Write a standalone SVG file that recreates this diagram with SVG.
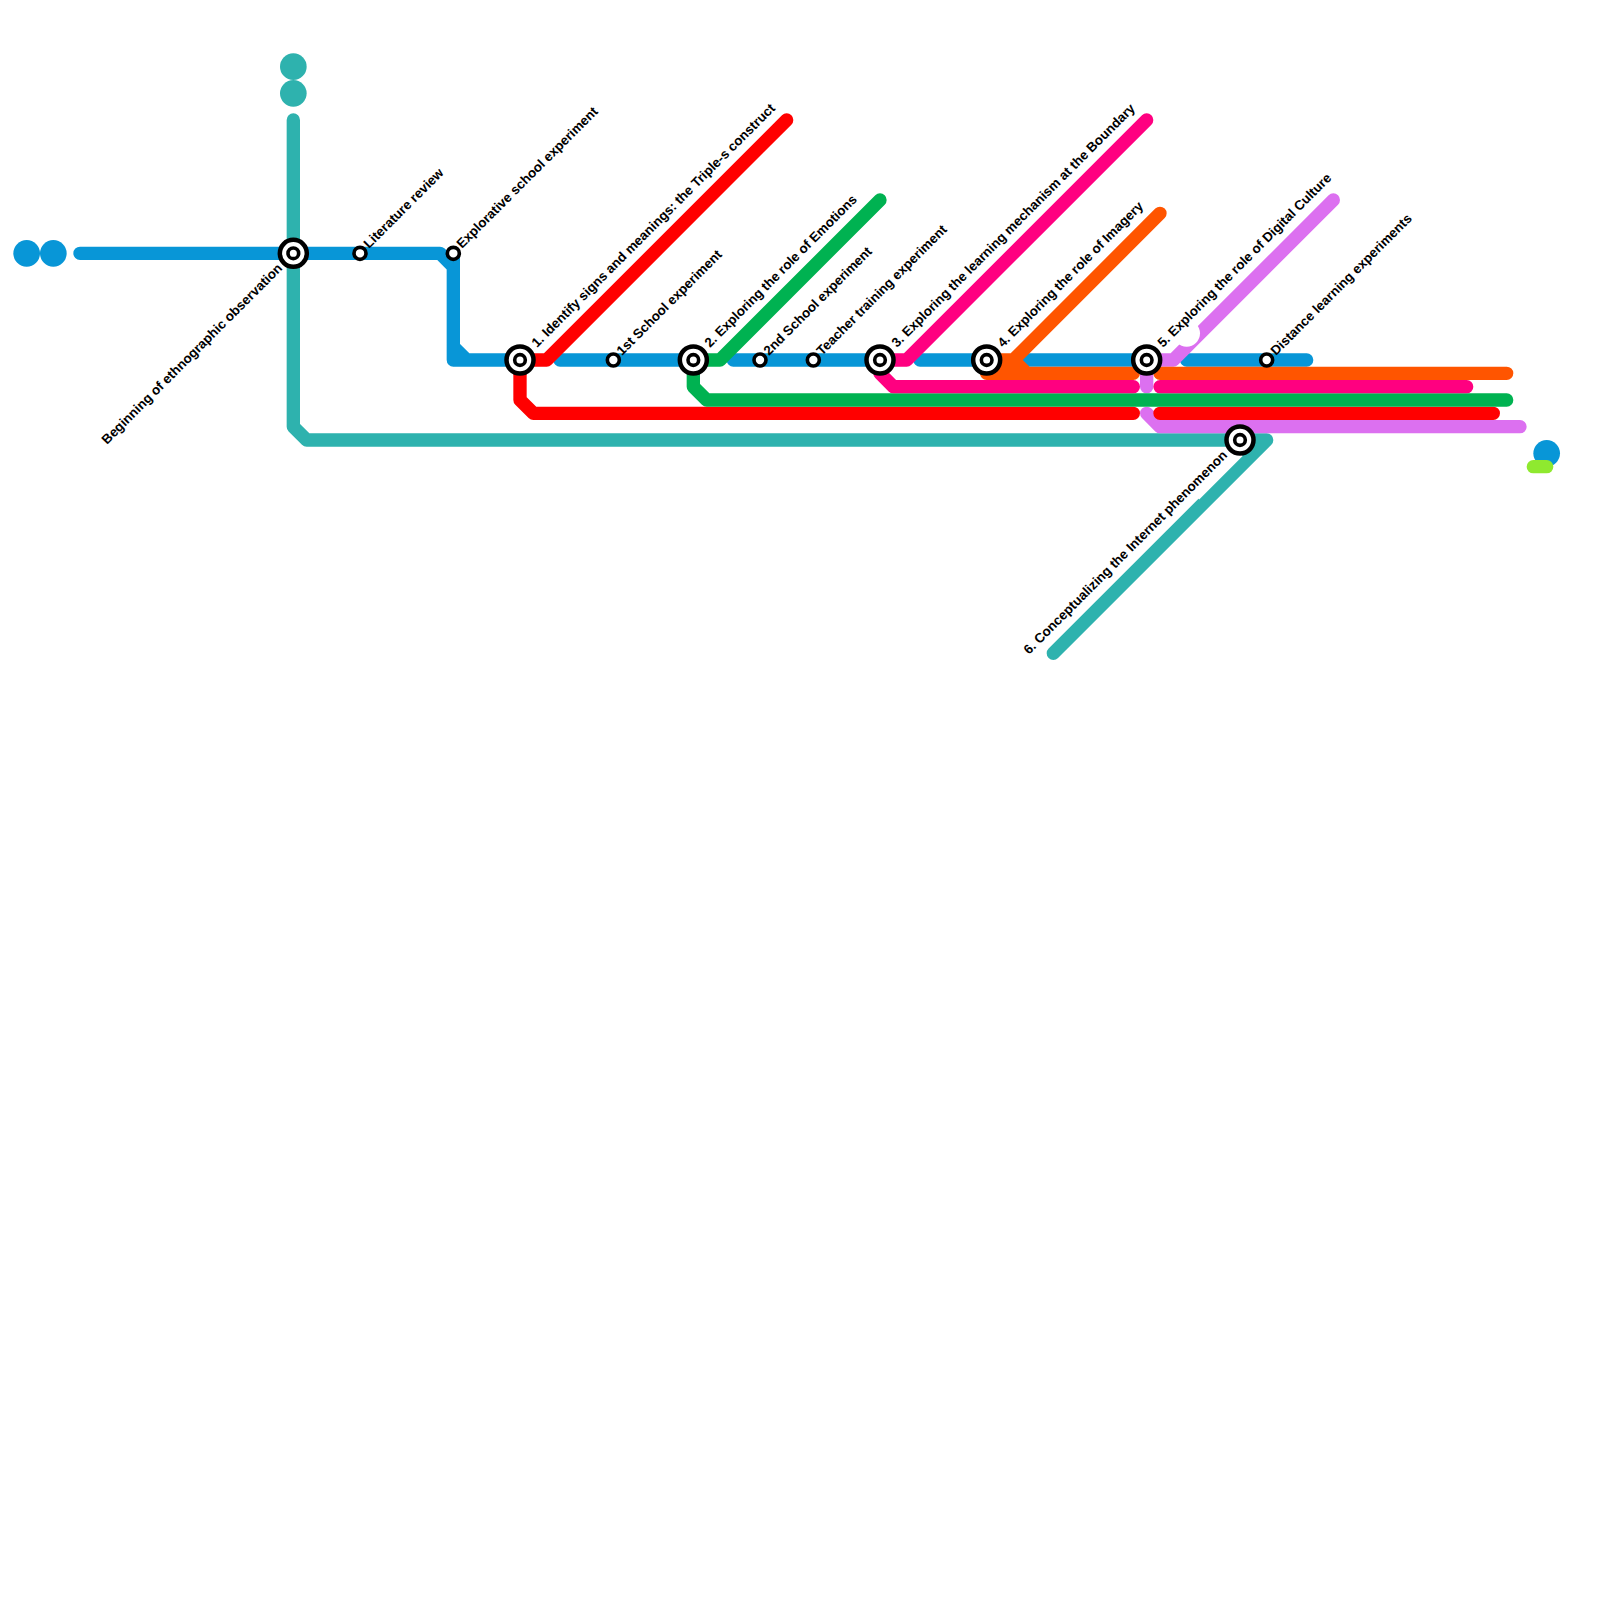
<svg xmlns="http://www.w3.org/2000/svg" width="1600" height="1600" viewBox="0 0 1600 1600">
<style>
.l{fill:none;stroke-width:13.33;stroke-linecap:round;stroke-linejoin:round}
.blue{stroke:#0896d7}.teal{stroke:#2eb2ae}.red{stroke:#ff0000}.green{stroke:#00b251}.pink{stroke:#ff0080}.orange{stroke:#ff5500}.purple{stroke:#dc70f0}.lime{stroke:#8fe92f}
.o{stroke:#000;stroke-width:4.5;fill:#fff}
.i{stroke:#000;stroke-width:3.6;fill:#fff}
.s{stroke:#000;stroke-width:3.6;fill:#fff}
text{font-family:"Liberation Sans",Arial,sans-serif;font-weight:700;font-size:13.33px;fill:#000}
</style>
<rect width="1600" height="1600" fill="#fff"/>
<g id="terminals">
<circle cx="26.67" cy="253.33" r="13.33" fill="#0896d7"/>
<circle cx="53.33" cy="253.33" r="13.33" fill="#0896d7"/>
<circle cx="293.33" cy="66.67" r="13.33" fill="#2eb2ae"/>
<circle cx="293.33" cy="93.33" r="13.33" fill="#2eb2ae"/>
<circle cx="1546.67" cy="453.33" r="13.33" fill="#0896d7"/>
</g>
<g id="connectors">
<path class="l teal" d="M293.33 120V426.67L306.67 440H1266.67L1053.33 653.33"/>
<path d="M1198.5 498.74L1242 455.24" fill="none" stroke="#fff" stroke-width="2"/>
<path class="l blue" d="M80 253.33H440L453.33 266.67M453.33 253.33V360M453.33 346.67L466.67 360M453.33 360H520"/>
<path class="l blue" d="M560 360H693.33M733.33 360H880M920 360H986.67M1026.67 360H1146.67M1186.67 360H1306.67"/>
<path class="l purple" d="M1146.67 360H1173.33L1333.33 200M1146.67 360V386.67M1146.67 413.33L1160 426.67H1520"/>
<path class="l red" d="M786.67 120L546.67 360H520V400L533.33 413.33H1133.33M1160 413.33H1493.33"/>
<path class="l green" d="M880 200L720 360H693.33V386.67L706.67 400H1506.67"/>
<path class="l pink" d="M1146.67 120L906.67 360H880V373.33L893.33 386.67H1133.33M1160 386.67H1466.67"/>
<path class="l orange" d="M1160 213.33L1013.33 360H986.67V373.33H1133.33M1160 373.33H1506.67M1013.33 360L1026.67 373.33"/>
<path class="l lime" d="M1533.33 466.67H1546.67"/>
<circle cx="1186.67" cy="333.33" r="13.33" fill="#fff"/>
</g>
<g id="s1"><circle class="o" cx="293.33" cy="253.33" r="13.5"/><circle class="i" cx="293.33" cy="253.33" r="5.33"/><text transform="translate(283 269) rotate(-45)" text-anchor="end">Beginning of ethnographic observation</text></g>
<g id="s2"><circle class="s" cx="360" cy="253.33" r="6"/><text transform="translate(369 249) rotate(-45)">Literature review</text></g>
<g id="s3"><circle class="s" cx="453.33" cy="253.33" r="6"/><text transform="translate(462 249) rotate(-45)">Explorative school experiment</text></g>
<g id="s4"><circle class="o" cx="520" cy="360" r="13.5"/><circle class="i" cx="520" cy="360" r="5.33"/><text transform="translate(537 348) rotate(-45)">1. Identify signs and meanings: the Triple-s construct</text></g>
<g id="s5"><circle class="s" cx="613.33" cy="360" r="6"/><text transform="translate(622 356) rotate(-45)">1st School experiment</text></g>
<g id="s6"><circle class="o" cx="693.33" cy="360" r="13.5"/><circle class="i" cx="693.33" cy="360" r="5.33"/><text transform="translate(710 348) rotate(-45)">2. Exploring the role of Emotions</text></g>
<g id="s7"><circle class="s" cx="760" cy="360" r="6"/><text transform="translate(769 356) rotate(-45)">2nd School experiment</text></g>
<g id="s8"><circle class="s" cx="813.33" cy="360" r="6"/><text transform="translate(822 356) rotate(-45)">Teacher training experiment</text></g>
<g id="s9"><circle class="o" cx="880" cy="360" r="13.5"/><circle class="i" cx="880" cy="360" r="5.33"/><text transform="translate(897 348) rotate(-45)">3. Exploring the learning mechanism at the Boundary</text></g>
<g id="s10"><circle class="o" cx="986.67" cy="360" r="13.5"/><circle class="i" cx="986.67" cy="360" r="5.33"/><text transform="translate(1003 348) rotate(-45)">4. Exploring the role of Imagery</text></g>
<g id="s11"><circle class="o" cx="1146.67" cy="360" r="13.5"/><circle class="i" cx="1146.67" cy="360" r="5.33"/><text transform="translate(1163 348) rotate(-45)">5. Exploring the role of Digital Culture</text></g>
<g id="s12"><circle class="s" cx="1266.67" cy="360" r="6"/><text transform="translate(1276 356) rotate(-45)">Distance learning experiments</text></g>
<g id="s13"><circle class="o" cx="1240" cy="440" r="13.5"/><circle class="i" cx="1240" cy="440" r="5.33"/><text transform="translate(1228 456) rotate(-45)" text-anchor="end">6. Conceptualizing the Internet phenomenon</text></g>
</svg>
